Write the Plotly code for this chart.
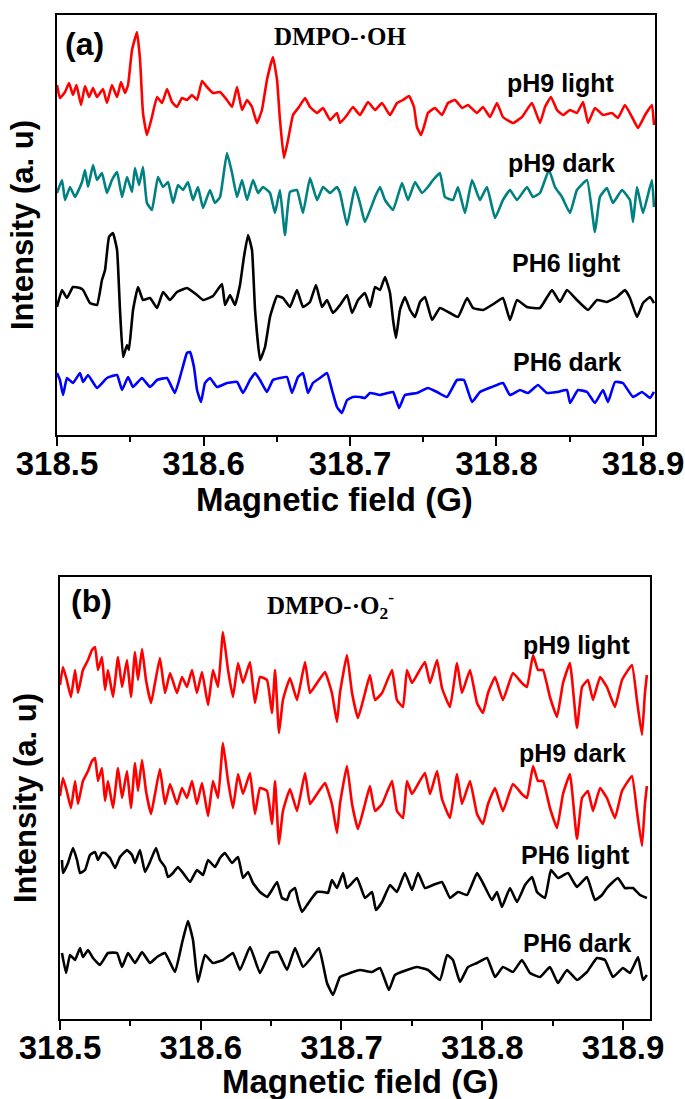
import plotly.graph_objects as go

# ---------------- Panel (a): DMPO-·OH ----------------
field_a_ph9_light = [318.5000, 318.5020, 318.5055, 318.5082, 318.5109, 318.5133, 318.5164, 318.5191, 318.5219, 318.5246,
                     318.5273, 318.5314, 318.5341, 318.5375, 318.5410, 318.5437, 318.5464, 318.5485, 318.5512, 318.5546,
                     318.5567, 318.5587, 318.5614, 318.5648, 318.5683, 318.5717, 318.5751, 318.5785, 318.5819, 318.5853,
                     318.5887, 318.5921, 318.5956, 318.5990, 318.6024, 318.6065, 318.6113, 318.6160, 318.6195, 318.6229,
                     318.6263, 318.6297, 318.6331, 318.6365, 318.6399, 318.6433, 318.6474, 318.6502, 318.6522, 318.6549,
                     318.6577, 318.6611, 318.6652, 318.6693, 318.6727, 318.6775, 318.6816, 318.6864, 318.6911, 318.6932,
                     318.6980, 318.7020, 318.7068, 318.7123, 318.7171, 318.7218, 318.7273, 318.7321, 318.7362, 318.7403,
                     318.7437, 318.7457, 318.7485, 318.7512, 318.7532, 318.7580, 318.7628, 318.7669, 318.7717, 318.7765,
                     318.7805, 318.7867, 318.7908, 318.7956, 318.8003, 318.8044, 318.8113, 318.8174, 318.8242, 318.8297,
                     318.8331, 318.8372, 318.8413, 318.8454, 318.8502, 318.8549, 318.8591, 318.8625, 318.8672, 318.8727,
                     318.8788, 318.8829, 318.8877, 318.8925, 318.8966, 318.9014, 318.9061, 318.9075]
int_a_ph9_light = [349, 336, 342, 351, 339, 349, 329, 348, 337, 346,
                   337, 345, 331, 349, 337, 352, 341, 349, 384, 402,
                   374, 321, 299, 317, 337, 331, 345, 332, 327, 336,
                   334, 339, 334, 353, 347, 341, 342, 334, 327, 347,
                   324, 334, 327, 311, 324, 354, 377, 354, 314, 276,
                   294, 319, 327, 336, 327, 321, 326, 314, 321, 311,
                   319, 327, 319, 332, 324, 331, 319, 331, 334, 338,
                   327, 307, 299, 311, 321, 326, 319, 331, 334, 326,
                   329, 321, 327, 317, 331, 317, 311, 317, 331, 311,
                   327, 337, 324, 319, 324, 321, 332, 311, 326, 319,
                   321, 316, 329, 317, 306, 319, 329, 309]

field_a_ph9_dark = [318.5000, 318.5034, 318.5055, 318.5089, 318.5123, 318.5171, 318.5191, 318.5212, 318.5246, 318.5273,
                    318.5307, 318.5341, 318.5375, 318.5410, 318.5444, 318.5478, 318.5512, 318.5532, 318.5560, 318.5587,
                    318.5614, 318.5648, 318.5689, 318.5724, 318.5758, 318.5792, 318.5826, 318.5860, 318.5894, 318.5928,
                    318.5962, 318.5997, 318.6044, 318.6078, 318.6113, 318.6160, 318.6195, 318.6229, 318.6263, 318.6297,
                    318.6338, 318.6372, 318.6406, 318.6454, 318.6488, 318.6522, 318.6556, 318.6590, 318.6638, 318.6679,
                    318.6727, 318.6775, 318.6816, 318.6864, 318.6911,
                    318.6932, 318.6980, 318.7034, 318.7068, 318.7102, 318.7171, 318.7205, 318.7239, 318.7294, 318.7355,
                    318.7396, 318.7444, 318.7491, 318.7532, 318.7567, 318.7614, 318.7648, 318.7703, 318.7737, 318.7785,
                    318.7833, 318.7887, 318.7935, 318.7990, 318.8044, 318.8092, 318.8140, 318.8208, 318.8249, 318.8297,
                    318.8358, 318.8399, 318.8447, 318.8502, 318.8549, 318.8618, 318.8672, 318.8706, 318.8754, 318.8795,
                    318.8857, 318.8911, 318.8932, 318.8959, 318.9000, 318.9061, 318.9075]
int_a_ph9_dark = [241, 254, 234, 247, 237, 252, 264, 247, 269, 254,
                  261, 241, 254, 262, 237, 257, 242, 266, 249, 267,
                  231, 224, 257, 247, 252, 231, 249, 244, 252, 234,
                  247, 226, 244, 231, 237, 281, 261, 237, 254, 234,
                  254, 241, 247, 241, 221, 244, 199, 242, 244, 221,
                  256, 234, 247, 241, 247,
                  241, 209, 247, 231, 212, 237, 247, 234, 224, 251,
                  234, 252, 241, 247, 254, 261, 237, 234, 247, 221,
                  254, 234, 247, 216, 234, 244, 234, 247, 237, 241,
                  264, 247, 237, 221, 244, 254, 202, 237, 246, 231,
                  244, 234, 212, 247, 221, 254, 227]

field_a_ph6_light = [318.5000, 318.5034, 318.5068, 318.5109, 318.5157, 318.5178, 318.5225, 318.5273, 318.5307, 318.5328,
                     318.5355, 318.5382, 318.5410, 318.5430, 318.5451, 318.5478, 318.5491, 318.5519, 318.5553, 318.5587,
                     318.5635, 318.5683, 318.5724, 318.5771, 318.5819, 318.5887, 318.5956, 318.5997, 318.6065, 318.6126,
                     318.6147, 318.6181, 318.6215, 318.6249, 318.6276, 318.6304, 318.6331, 318.6352, 318.6386, 318.6420,
                     318.6454, 318.6502, 318.6543, 318.6590, 318.6638, 318.6679, 318.6727, 318.6768, 318.6809, 318.6843,
                     318.6884, 318.6932, 318.6980, 318.7014, 318.7055, 318.7102, 318.7137, 318.7171, 318.7205, 318.7239,
                     318.7273, 318.7294, 318.7314, 318.7341, 318.7375, 318.7410, 318.7444, 318.7478, 318.7512, 318.7560,
                     318.7614, 318.7683, 318.7737, 318.7799, 318.7840, 318.7908, 318.7990, 318.8044, 318.8092, 318.8140,
                     318.8208, 318.8297, 318.8379, 318.8433, 318.8481, 318.8549, 318.8625, 318.8686, 318.8754, 318.8822,
                     318.8877, 318.8911, 318.8959, 318.9000, 318.9048, 318.9075]
int_a_ph6_light = [127, 144, 136, 147, 146, 144, 131, 129, 154, 164,
                   197, 201, 184, 124, 77, 89, 84, 124, 147, 134,
                   136, 126, 142, 134, 142, 146, 139, 134, 138, 150,
                   129, 139, 129, 149, 177, 199, 184, 124, 74, 87,
                   117, 138, 136, 127, 144, 127, 132, 149, 127, 134,
                   121, 129, 139, 121, 134, 141, 127, 147, 144, 157,
                   141, 114, 96, 124, 137, 124, 117, 132, 137, 114,
                   126, 121, 117, 136, 126, 124, 131, 136, 114, 134,
                   127, 126, 144, 132, 144, 134, 124, 134, 132, 137,
                   144, 136, 117, 131, 137, 131]

field_a_ph6_dark = [318.5000, 318.5020, 318.5041, 318.5068, 318.5109, 318.5157, 318.5178, 318.5212, 318.5273, 318.5341,
                    318.5410, 318.5444, 318.5485, 318.5519, 318.5580, 318.5635, 318.5683, 318.5751, 318.5805, 318.5853,
                    318.5887, 318.5908, 318.5935, 318.5956, 318.5983, 318.6010, 318.6044, 318.6092, 318.6160, 318.6229,
                    318.6270, 318.6317, 318.6352, 318.6386, 318.6433, 318.6474, 318.6522, 318.6570, 318.6604, 318.6645,
                    318.6679, 318.6713, 318.6747, 318.6795, 318.6843, 318.6877, 318.6911, 318.6945, 318.6980, 318.7020,
                    318.7068, 318.7102, 318.7137, 318.7205, 318.7294, 318.7335, 318.7375, 318.7457, 318.7532, 318.7594,
                    318.7662, 318.7730, 318.7778, 318.7833, 318.7887, 318.7969, 318.8044, 318.8092, 318.8160, 318.8215,
                    318.8283, 318.8345, 318.8413, 318.8481, 318.8502, 318.8556, 318.8618, 318.8672, 318.8727, 318.8761,
                    318.8809, 318.8863, 318.8932, 318.8993, 318.9048, 318.9075]
int_a_ph6_dark = [61, 54, 39, 56, 51, 61, 52, 59, 46, 56,
                  59, 44, 57, 47, 56, 47, 54, 56, 41, 64,
                  81, 82, 67, 44, 32, 51, 56, 47, 51, 52,
                  41, 54, 61, 54, 42, 54, 56, 57, 41, 57,
                  61, 41, 51, 56, 61, 44, 27, 21, 34, 37,
                  37, 36, 41, 39, 42, 26, 39, 41, 46, 42,
                  37, 54, 54, 32, 42, 47, 51, 39, 44, 41,
                  49, 41, 42, 44, 31, 44, 42, 31, 44, 32,
                  52, 51, 37, 42, 36, 42]

# ---------------- Panel (b): DMPO-·O2- ----------------
field_b_ph9 = [318.5000, 318.5021, 318.5048, 318.5078, 318.5107, 318.5128, 318.5163, 318.5199, 318.5227, 318.5249,
               318.5270, 318.5298, 318.5320, 318.5341, 318.5377, 318.5412, 318.5441, 318.5476, 318.5504, 318.5533,
               318.5554, 318.5583, 318.5611, 318.5647, 318.5675, 318.5710, 318.5746, 318.5782, 318.5831, 318.5867,
               318.5902, 318.5938, 318.5973, 318.6009, 318.6052, 318.6087, 318.6123, 318.6158, 318.6194, 318.6229,
               318.6265, 318.6300, 318.6350, 318.6385, 318.6421, 318.6471, 318.6506, 318.6528, 318.6556, 318.6584,
               318.6634, 318.6684, 318.6741, 318.6776, 318.6826, 318.6883, 318.6932, 318.6968, 318.6989, 318.7039,
               318.7075, 318.7117, 318.7167, 318.7202, 318.7238, 318.7288, 318.7359, 318.7394, 318.7437, 318.7465,
               318.7501, 318.7544, 318.7593, 318.7629, 318.7679, 318.7714, 318.7771, 318.7821, 318.7856, 318.7913,
               318.7963, 318.8005, 318.8041, 318.8091, 318.8147, 318.8218, 318.8282, 318.8318, 318.8361, 318.8396,
               318.8432, 318.8481, 318.8531, 318.8574, 318.8623, 318.8673, 318.8709, 318.8751, 318.8787, 318.8837,
               318.8886, 318.8943, 318.8993, 318.9064, 318.9099, 318.9135, 318.9156, 318.9170]
int_b_ph9_light = [334, 352, 339, 322, 349, 326, 349, 359, 369, 372,
                   349, 362, 329, 349, 322, 362, 332, 359, 322, 367,
                   339, 370, 339, 316, 336, 361, 326, 346, 326, 342,
                   332, 349, 326, 347, 314, 349, 332, 387, 349, 322,
                   356, 336, 357, 316, 342, 339, 306, 349, 286, 319,
                   341, 319, 357, 326, 336, 347, 326, 297, 326, 364,
                   326, 301, 326, 344, 319, 326, 349, 319, 312, 349,
                   336, 346, 357, 336, 359, 331, 312, 356, 326, 349,
                   316, 306, 326, 342, 319, 346, 336, 332, 364, 349,
                   349, 322, 302, 336, 356, 291, 332, 339, 319, 342,
                   332, 312, 339, 354, 319, 284, 326, 344]
int_b_ph9_dark = [223, 241, 228, 211, 238, 215, 238, 248, 258, 261,
                  238, 251, 218, 238, 211, 251, 221, 248, 211, 256,
                  228, 259, 228, 205, 225, 250, 215, 235, 215, 231,
                  221, 238, 215, 236, 203, 238, 221, 276, 238, 211,
                  245, 225, 246, 205, 231, 228, 195, 238, 175, 208,
                  230, 208, 246, 215, 225, 236, 215, 186, 215, 253,
                  215, 190, 215, 233, 208, 215, 238, 208, 201, 238,
                  225, 235, 246, 225, 248, 220, 201, 245, 215, 238,
                  205, 195, 215, 231, 208, 235, 225, 221, 253, 238,
                  238, 211, 191, 225, 245, 180, 221, 228, 208, 231,
                  221, 201, 228, 243, 208, 173, 215, 233]

field_b_ph6_light = [318.5014, 318.5021, 318.5057, 318.5092, 318.5121, 318.5142, 318.5178, 318.5213, 318.5249, 318.5270,
                     318.5298, 318.5320, 318.5355, 318.5391, 318.5426, 318.5476, 318.5512, 318.5533, 318.5568, 318.5604,
                     318.5639, 318.5682, 318.5710, 318.5746, 318.5767, 318.5803, 318.5838, 318.5874, 318.5924, 318.5973,
                     318.6016, 318.6052, 318.6101, 318.6137, 318.6172, 318.6222, 318.6265, 318.6300, 318.6336, 318.6371,
                     318.6421, 318.6471, 318.6506, 318.6542, 318.6577, 318.6613, 318.6634, 318.6670, 318.6691, 318.6719,
                     318.6755, 318.6790, 318.6826, 318.6869, 318.6904, 318.6932, 318.6968, 318.7011, 318.7039, 318.7110,
                     318.7167, 318.7217, 318.7245, 318.7288, 318.7345, 318.7394, 318.7451, 318.7501, 318.7544, 318.7593,
                     318.7650, 318.7714, 318.7771, 318.7828, 318.7892, 318.7963, 318.8005, 318.8069, 318.8105, 318.8140,
                     318.8197, 318.8247, 318.8304, 318.8354, 318.8389, 318.8446, 318.8488, 318.8538, 318.8609, 318.8673,
                     318.8744, 318.8801, 318.8851, 318.8886, 318.8964, 318.9014, 318.9071, 318.9121, 318.9170]
int_b_ph6_light = [159, 146, 156, 171, 159, 146, 149, 164, 167, 159,
                   166, 166, 161, 151, 162, 169, 164, 156, 169, 147,
                   157, 171, 159, 152, 142, 146, 152, 146, 137, 149,
                   144, 159, 152, 161, 166, 156, 162, 141, 147, 136,
                   127, 122, 129, 137, 121, 119, 127, 131, 119, 107,
                   114, 121, 127, 127, 126, 139, 131, 146, 131, 141,
                   121, 127, 109, 117, 134, 127, 146, 129, 146, 131,
                   134, 137, 121, 127, 124, 146, 136, 119, 127, 112,
                   131, 117, 134, 142, 127, 121, 149, 141, 146, 132,
                   142, 119, 124, 131, 141, 131, 131, 124, 121]

field_b_ph6_dark = [318.5014, 318.5043, 318.5071, 318.5107, 318.5142, 318.5163, 318.5199, 318.5234, 318.5284, 318.5341,
                    318.5405, 318.5441, 318.5483, 318.5533, 318.5583, 318.5639, 318.5689, 318.5746, 318.5817, 318.5867,
                    318.5909, 318.5945, 318.5980, 318.6030, 318.6087, 318.6158, 318.6229, 318.6279, 318.6350, 318.6421,
                    318.6492, 318.6549, 318.6613, 318.6670, 318.6726, 318.6790, 318.6840, 318.6897, 318.6940, 318.6989,
                    318.7060, 318.7131, 318.7217, 318.7274, 318.7337, 318.7380, 318.7465, 318.7536, 318.7615, 318.7700,
                    318.7750, 318.7792, 318.7842, 318.7899, 318.7963, 318.8034, 318.8091, 318.8147, 318.8218, 318.8282,
                    318.8339, 318.8410, 318.8481, 318.8538, 318.8602, 318.8673, 318.8744, 318.8815, 318.8872, 318.8929,
                    318.9000, 318.9050, 318.9107, 318.9142, 318.9170]
int_b_ph6_dark = [66, 46, 64, 59, 71, 62, 69, 61, 54, 66,
                  66, 52, 66, 56, 67, 56, 62, 66, 47, 76,
                  98, 79, 37, 64, 56, 59, 66, 49, 72, 46,
                  66, 67, 49, 71, 52, 62, 71, 36, 24, 42,
                  46, 49, 47, 51, 29, 44, 49, 52, 49, 39,
                  64, 59, 37, 52, 56, 61, 42, 52, 47, 59,
                  46, 42, 52, 36, 49, 39, 47, 61, 59, 42,
                  51, 46, 62, 39, 44]

series_a = [
    ("pH9 light", field_a_ph9_light, int_a_ph9_light, "#FF0000"),
    ("pH9 dark", field_a_ph9_dark, int_a_ph9_dark, "#008080"),
    ("PH6 light", field_a_ph6_light, int_a_ph6_light, "#000000"),
    ("PH6 dark", field_a_ph6_dark, int_a_ph6_dark, "#0000FF"),
]
series_b = [
    ("pH9 light", field_b_ph9, int_b_ph9_light, "#FF0000"),
    ("pH9 dark", field_b_ph9, int_b_ph9_dark, "#FF0000"),
    ("PH6 light", field_b_ph6_light, int_b_ph6_light, "#000000"),
    ("PH6 dark", field_b_ph6_dark, int_b_ph6_dark, "#000000"),
]

W, H = 685, 1099
SANS = "Liberation Sans, Arial, sans-serif"
SERIF = "Liberation Serif, Times New Roman, serif"

fig = go.Figure()
for name, fx, fy, col in series_a:
    assert len(fx) == len(fy)
    fig.add_trace(go.Scatter(x=fx, y=fy, mode="lines", name=name,
                             line=dict(color=col, width=2.6, shape="spline", smoothing=0.35),
                             xaxis="x", yaxis="y", showlegend=False))
for name, fx, fy, col in series_b:
    assert len(fx) == len(fy)
    fig.add_trace(go.Scatter(x=fx, y=fy, mode="lines", name=name,
                             line=dict(color=col, width=2.6, shape="spline", smoothing=0.35),
                             xaxis="x2", yaxis="y2", showlegend=False))


def xax(domain, rng, anchor):
    return dict(domain=domain, range=rng, anchor=anchor, automargin=False,
                tick0=318.5, dtick=0.1, tickformat=".1f",
                ticks="outside", ticklen=9, tickwidth=2, tickcolor="black",
                ticklabelstandoff=-11,
                minor=dict(dtick=0.05, ticks="outside", ticklen=5, tickwidth=2, tickcolor="black"),
                showline=True, linewidth=2, linecolor="black", mirror=True,
                showgrid=False, zeroline=False,
                tickfont=dict(family=SANS, size=33, color="black", weight="bold"))


def yax(domain, rng, anchor):
    return dict(domain=domain, range=rng, anchor=anchor, automargin=False,
                showticklabels=False, ticks="",
                showline=True, linewidth=2, linecolor="black", mirror=True,
                showgrid=False, zeroline=False,
                title=dict(text="Intensity (a. u)", standoff=12,
                           font=dict(family=SANS, size=31, color="black", weight="bold")))


fig.update_layout(
    width=W, height=H, margin=dict(l=0, r=0, t=0, b=0, autoexpand=False),
    paper_bgcolor="white", plot_bgcolor="white",
    xaxis=xax([57 / W, 655 / W], [318.5, 318.9082], "y"),
    yaxis=yax([1 - 435 / H, 1 - 15 / H], [-1, 419], "x"),
    xaxis2=xax([60 / W, 650 / W], [318.5, 318.9192], "y2"),
    yaxis2=yax([1 - 1019 / H, 1 - 577 / H], [0, 442], "x2"),
)


def ann(text, px, py, size, family=SANS, xanchor="right", bold=True):
    fig.add_annotation(text=text, x=px / W, y=1 - py / H, xref="paper", yref="paper",
                       xanchor=xanchor, yanchor="middle", showarrow=False,
                       font=dict(family=family, size=size, color="black",
                                 weight="bold" if bold else "normal"))


# x-axis titles
ann("Magnetic field (G)", 334, 499, 33, xanchor="center")
ann("Magnetic field (G)", 360, 1081, 33, xanchor="center")
# curve labels panel (a)
ann("pH9 light", 617, 83, 25)
ann("pH9 dark", 617, 163, 25)
ann("PH6 light", 623, 263, 25)
ann("PH6 dark", 623, 362, 25)
# curve labels panel (b)
ann("pH9 light", 633, 645, 25)
ann("pH9 dark", 628, 753, 25)
ann("PH6 light", 632, 855, 25)
ann("PH6 dark", 633, 943, 25)
# panel tags and species
ann("(a)", 63, 44, 32, xanchor="left")
ann("(b)", 69, 601, 32, xanchor="left")
ann("DMPO-·OH", 340, 36, 25, family=SERIF, xanchor="center")
ann("DMPO-·O<sub>2</sub><sup>-</sup>", 330, 605, 25, family=SERIF, xanchor="center")

fig.write_html("out.html")
